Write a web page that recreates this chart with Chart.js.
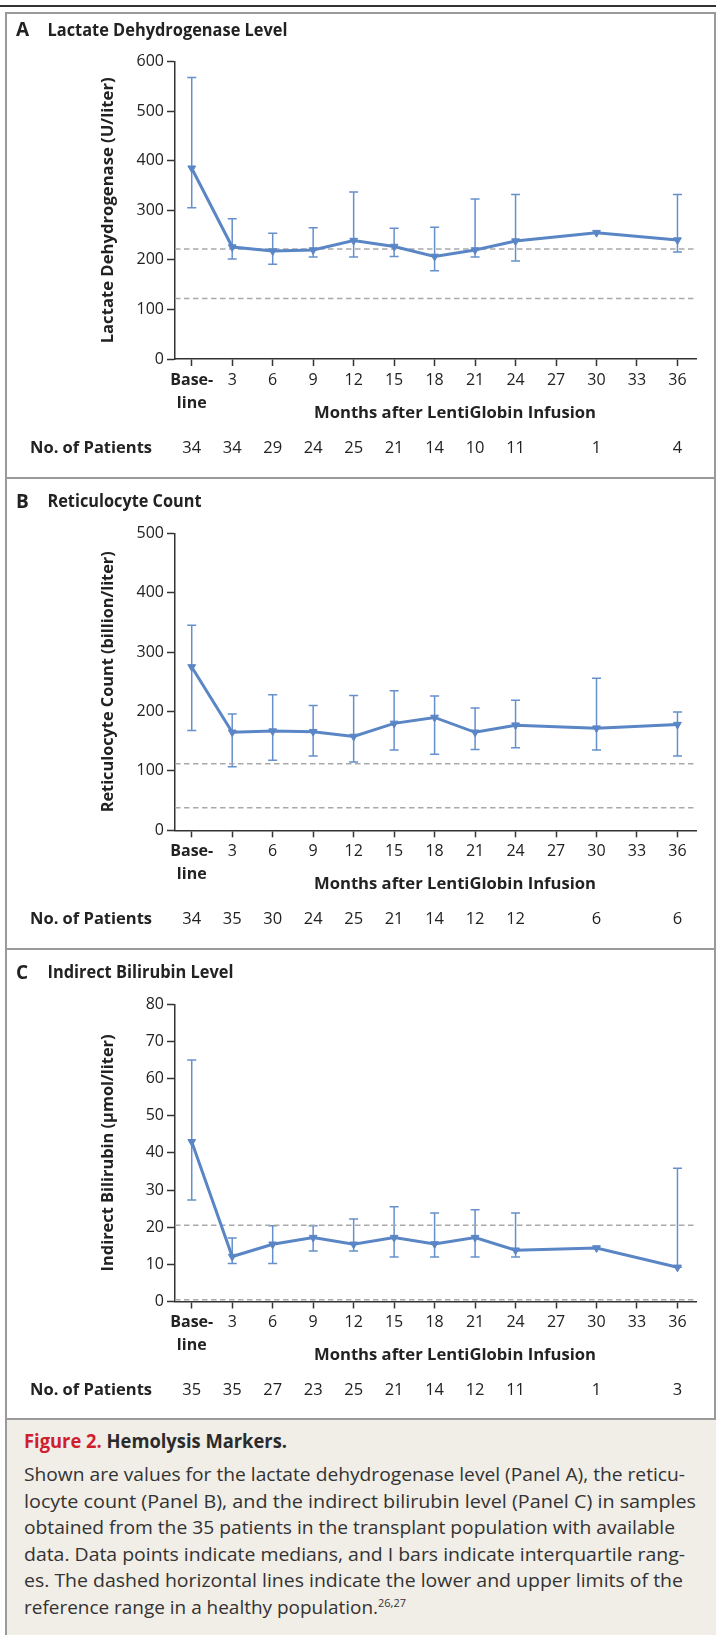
<!DOCTYPE html>
<html>
<head>
<meta charset="utf-8">
<script src="https://cdn.jsdelivr.net/npm/chart.js@4.4.1/dist/chart.umd.min.js"></script>
<style>
  html, body { margin: 0; padding: 0; background: #fff; }
  #page { position: relative; width: 716px; height: 1635px; overflow: hidden; font-family: "Open Sans", sans-serif; color: #333; }
  .line { position: absolute; background: #9a9a9a; }
  canvas { position: absolute; left: 0; }
  #caption { position: absolute; left: 7px; top: 1420px; width: 709px; height: 215px; background: #f1ede7; }
  .cap { position: absolute; left: 24px; white-space: nowrap; transform-origin: 0 50%; }
  .cap-head { top: 1428px; font-size: 19px; font-weight: 700; line-height: 26px; color: #2b2b2b; }
  .cap-head .red { color: #cf1f2e; font-weight: 700; }
  .cap-body { font-size: 19px; line-height: 26.5px; color: #333; }
  sup { font-size: 11px; line-height: 0; vertical-align: 7px; }
</style>
</head>
<body>
<div id="page">
  <div class="line" style="left:0;top:5px;width:716px;height:2px;background:#333"></div>
  <div class="line" style="left:5px;top:12px;width:711px;height:2px"></div>
  <div class="line" style="left:5px;top:477px;width:711px;height:2px"></div>
  <div class="line" style="left:5px;top:948px;width:711px;height:2px"></div>
  <div class="line" style="left:5px;top:1418px;width:711px;height:2px"></div>
  <div class="line" style="left:5px;top:12px;width:2px;height:1623px"></div>
  <div class="line" style="left:714px;top:12px;width:2px;height:1407px"></div>
  <div id="caption"></div>

  <canvas id="chartA" width="716" height="466" style="top:12px"></canvas>
  <canvas id="chartB" width="716" height="471" style="top:478px"></canvas>
  <canvas id="chartC" width="716" height="470" style="top:949px"></canvas>

  <div class="cap cap-head" data-w="263"><span class="red">Figure 2.</span> Hemolysis Markers.</div>
  <div class="cap cap-body" style="top:1461px" data-w="661">Shown are values for the lactate dehydrogenase level (Panel A), the reticu-</div>
  <div class="cap cap-body" style="top:1487.5px" data-w="672">locyte count (Panel B), and the indirect bilirubin level (Panel C) in samples</div>
  <div class="cap cap-body" style="top:1514px" data-w="651">obtained from the 35 patients in the transplant population with available</div>
  <div class="cap cap-body" style="top:1540.5px" data-w="661">data. Data points indicate medians, and I bars indicate interquartile rang-</div>
  <div class="cap cap-body" style="top:1567px" data-w="659">es. The dashed horizontal lines indicate the lower and upper limits of the</div>
  <div class="cap cap-body" style="top:1593.5px" data-w="382">reference range in a healthy population.<sup>26,27</sup></div>
</div>

<script>
// months with data, and the tick positions on the x axis
const months = [0, 3, 6, 9, 12, 15, 18, 21, 24, 30, 36];
const xTicks = [0, 3, 6, 9, 12, 15, 18, 21, 24, 27, 30, 33, 36];

// Panel A: lactate dehydrogenase (U/liter)
const ldhMedian = [385, 226, 218, 220, 239, 227, 207, 220, 238, 255, 240];
const ldhLow = [305, 202, 191, 206, 206, 207, 178, 206, 198, null, 216];
const ldhHigh = [568, 283, 254, 265, 337, 264, 266, 323, 332, null, 332];
const ldhRef = [122, 222];
const ldhPatients = [34, 34, 29, 24, 25, 21, 14, 10, 11, 1, 4];

// Panel B: reticulocyte count (billion/liter)
const retMedian = [275, 165, 167, 166, 158, 180, 190, 165, 177, 172, 178];
const retLow = [168, 107, 118, 125, 115, 135, 128, 136, 139, 135, 125];
const retHigh = [345, 196, 228, 210, 227, 235, 226, 206, 219, 256, 199];
const retRef = [38, 112];
const retPatients = [34, 35, 30, 24, 25, 21, 14, 12, 12, 6, 6];

// Panel C: indirect bilirubin (umol/liter)
const bilMedian = [43, 12.1, 15.4, 17.2, 15.4, 17.2, 15.5, 17.2, 13.8, 14.4, 9.2];
const bilLow = [27.3, 10.2, 10.2, 13.6, 13.6, 12, 12, 12, 12, null, 9.2];
const bilHigh = [65, 17.1, 20.4, 20.4, 22.2, 25.5, 23.8, 24.7, 23.8, null, 35.9];
const bilRef = [0.5, 20.5];
const bilPatients = [35, 35, 27, 23, 25, 21, 14, 12, 11, 1, 3];

const X_MIN = -1.24;
const X_MAX = 37.41;
const BLUE = "#5a86c6";
const BAR_BLUE = "#6690cc";
const INK = "#222";
const FONT = '"Open Sans", sans-serif';

// draws text stretched/squeezed to an exact width
function fitText(ctx, text, x, y, w, align) {
    const natural = ctx.measureText(text).width;
    const k = w / natural;
    ctx.save();
    ctx.translate(x, y);
    ctx.scale(k, 1);
    ctx.textAlign = align;
    ctx.fillText(text, 0, 0);
    ctx.restore();
}

function makePanel(id, cfg) {
    const errorBars = {
        id: "errorBars",
        beforeDatasetsDraw(chart) {
            const { ctx, scales } = chart;
            ctx.save();
            ctx.strokeStyle = BAR_BLUE;
            ctx.lineWidth = 1.5;
            months.forEach((m, i) => {
                if (cfg.low[i] == null || cfg.high[i] == null) return;
                const x = scales.x.getPixelForValue(m);
                const y1 = scales.y.getPixelForValue(cfg.high[i]);
                const y2 = scales.y.getPixelForValue(cfg.low[i]);
                ctx.beginPath();
                ctx.moveTo(x, y1);
                ctx.lineTo(x, y2);
                ctx.moveTo(x - 4.5, y1);
                ctx.lineTo(x + 4.5, y1);
                ctx.moveTo(x - 4.5, y2);
                ctx.lineTo(x + 4.5, y2);
                ctx.stroke();
            });
            ctx.restore();
        },
    };

    const panelText = {
        id: "panelText",
        afterDraw(chart) {
            const { ctx, chartArea: ca, scales } = chart;
            ctx.save();
            ctx.fillStyle = INK;
            ctx.textBaseline = "middle";

            ctx.font = "700 19px " + FONT;
            ctx.textAlign = "left";
            ctx.fillText(cfg.letter, 16, ca.top - 31);
            ctx.font = "700 17px " + FONT;
            fitText(ctx, cfg.title, 47.5, ca.top - 31, cfg.titleW, "left");

            // y axis title
            ctx.save();
            ctx.translate(108, (ca.top + ca.bottom) / 2);
            ctx.rotate(-Math.PI / 2);
            ctx.font = "700 16.5px " + FONT;
            fitText(ctx, cfg.yTitle, 0, 0, cfg.yTitleW, "center");
            ctx.restore();

            ctx.font = "700 16.5px " + FONT;
            fitText(ctx, "Months after LentiGlobin Infusion", 455, ca.bottom + 54, 282, "center");
            fitText(ctx, "No. of Patients", 30, ca.bottom + 89, 122, "left");

            ctx.font = "400 16.5px " + FONT;
            ctx.textAlign = "center";
            cfg.patients.forEach((n, i) => {
                ctx.fillText(String(n), scales.x.getPixelForValue(months[i]), ca.bottom + 89);
            });
            ctx.restore();
        },
    };

    const refSets = cfg.ref.map((v) => ({
        data: [{ x: X_MIN, y: v }, { x: X_MAX, y: v }],
        borderColor: "#a9a9a9",
        borderWidth: 1.5,
        borderDash: [5.5, 3.5],
        pointRadius: 0,
        order: 2,
    }));

    new Chart(document.getElementById(id).getContext("2d"), {
        type: "line",
        data: {
            datasets: [
                {
                    data: months.map((m, i) => ({ x: m, y: cfg.median[i] })),
                    borderColor: BLUE,
                    borderWidth: 3,
                    tension: 0,
                    pointStyle: "triangle",
                    rotation: 180,
                    pointRadius: 4.5,
                    pointBackgroundColor: BLUE,
                    pointBorderColor: BLUE,
                    pointBorderWidth: 1,
                    order: 0,
                },
                ...refSets,
            ],
        },
        options: {
            responsive: false,
            animation: false,
            events: [],
            layout: {
                padding: { left: 115, right: 19.5, top: cfg.padTop, bottom: cfg.padBottom },
            },
            plugins: { legend: { display: false }, tooltip: { enabled: false } },
            scales: {
                x: {
                    type: "linear",
                    min: X_MIN,
                    max: X_MAX,
                    afterBuildTicks: (s) => {
                        s.ticks = xTicks.map((v) => ({ value: v }));
                    },
                    afterFit: (s) => {
                        s.height = 64;
                    },
                    grid: { drawOnChartArea: false, tickLength: 7, tickColor: "#333", tickWidth: 1.5 },
                    border: { color: "#333", width: 1.5 },
                    ticks: {
                        autoSkip: false,
                        maxRotation: 0,
                        padding: 3,
                        color: INK,
                        font: (c) => ({
                            family: FONT,
                            size: 16,
                            weight: c.tick && c.tick.value === 0 ? "700" : "400",
                            lineHeight: 1.42,
                        }),
                        callback: (v) => (v === 0 ? ["Base-", "line"] : String(v)),
                    },
                },
                y: {
                    min: 0,
                    max: cfg.yMax,
                    afterFit: (s) => {
                        s.width = 60;
                    },
                    grid: { drawOnChartArea: false, tickLength: 8, tickColor: "#333", tickWidth: 1.5 },
                    border: { color: "#333", width: 1.5 },
                    ticks: {
                        stepSize: cfg.yStep,
                        padding: 3,
                        color: INK,
                        font: { family: FONT, size: 16 },
                    },
                },
            },
        },
        plugins: [errorBars, panelText],
    });
}

makePanel("chartA", {
    letter: "A", title: "Lactate Dehydrogenase Level", titleW: 240,
    yTitle: "Lactate Dehydrogenase (U/liter)", yTitleW: 266,
    median: ldhMedian, low: ldhLow, high: ldhHigh, ref: ldhRef, patients: ldhPatients,
    yMax: 600, yStep: 100, padTop: 49.7, padBottom: 55,
});
makePanel("chartB", {
    letter: "B", title: "Reticulocyte Count", titleW: 154,
    yTitle: "Reticulocyte Count (billion/liter)", yTitleW: 261,
    median: retMedian, low: retLow, high: retHigh, ref: retRef, patients: retPatients,
    yMax: 500, yStep: 100, padTop: 55.3, padBottom: 54.7,
});
makePanel("chartC", {
    letter: "C", title: "Indirect Bilirubin Level", titleW: 186,
    yTitle: "Indirect Bilirubin (\u03bcmol/liter)", yTitleW: 237,
    median: bilMedian, low: bilLow, high: bilHigh, ref: bilRef, patients: bilPatients,
    yMax: 80, yStep: 10, padTop: 55.3, padBottom: 53.5,
});

// squeeze caption lines to the reference line widths
document.querySelectorAll(".cap").forEach((el) => {
    const w = el.getBoundingClientRect().width;
    el.style.transform = "scaleX(" + (+el.dataset.w / w) + ")";
});
</script>
</body>
</html>
